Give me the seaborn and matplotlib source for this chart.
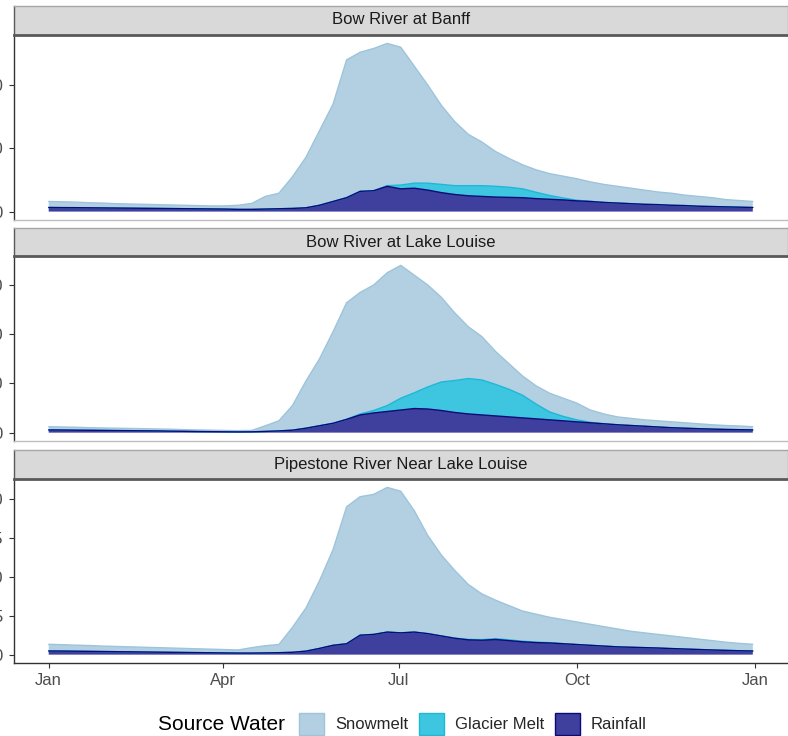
import numpy as np
import pandas as pd
import seaborn as sns
import matplotlib.pyplot as plt
import matplotlib.dates as mdates
from matplotlib.patches import Patch

# rivers (facets) and water sources (stack order in legend)
rivers = ["Bow River at Banff", "Bow River at Lake Louise", "Pipestone River Near Lake Louise"]
sources = ["Snowmelt", "Glacier Melt", "Rainfall"]
dates = pd.date_range("2021-01-01", periods=53, freq="7D")

# weekly flow by source
banff_snow = [9.5, 9.2, 8.8, 8.0, 7.7, 6.9, 6.6, 6.3, 6.0, 5.7, 5.4, 5.1, 4.8, 5.0, 6.5, 9.5,
              20, 24.5, 50, 80, 118, 154, 218, 220, 225, 225, 218, 185, 155, 125, 101, 81,
              69, 55, 45.5, 38, 35.5, 34.5, 34.5, 34, 30.7, 28.5, 26.5, 24.5, 22.5, 20, 19,
              16.5, 15.5, 14, 11.5, 10.5, 9.5]
banff_glacier = [0] * 25 + [1, 6, 8, 11, 13, 14, 16, 17, 17, 16, 14, 10, 6, 3, 1, 0.3] + [0] * 12
banff_rain = [6.5, 6.3, 6.2, 6.0, 5.8, 5.6, 5.4, 5.2, 5.0, 4.8, 4.6, 4.4, 4.2, 4.0, 3.5, 3.5,
              4.0, 4.5, 5.0, 6.0, 10, 16, 22, 32, 33, 40, 36, 37, 34, 30, 27, 25, 24, 23,
              22.5, 22, 20.5, 19.5, 18.5, 17, 16, 14.5, 13.5, 12.5, 11.5, 11, 10, 9.5, 8.5,
              8, 7.5, 7, 6.5]

louise_snow = [0.65, 0.62, 0.6, 0.52, 0.5, 0.48, 0.45, 0.43, 0.4, 0.4, 0.33, 0.33, 0.3, 0.28,
               0.25, 0.28, 1.15, 2.05, 5.0, 9.6, 13.6, 18.6, 23.7, 24.7, 25.5, 27.0, 27.0,
               23.9, 20.7, 17.2, 13.7, 10.5, 8.8, 6.7, 5.2, 3.9, 3.7, 3.8, 3.7, 3.4, 2.5,
               2.0, 1.6, 1.45, 1.3, 1.25, 1.2, 1.1, 1.0, 0.88, 0.8, 0.75, 0.65]
louise_glacier = [0] * 23 + [0.2, 0.5, 1.2, 2.4, 3.2, 4.5, 5.8, 6.5, 7.2, 7.1, 6.4, 5.6, 4.6,
                             3.0, 1.6, 0.9, 0.4, 0.1] + [0] * 12
louise_rain = [0.55, 0.53, 0.5, 0.48, 0.45, 0.42, 0.4, 0.37, 0.35, 0.3, 0.27, 0.22, 0.2, 0.17,
               0.15, 0.17, 0.25, 0.35, 0.5, 0.9, 1.4, 1.9, 2.7, 3.6, 4.0, 4.3, 4.6, 4.9, 4.8,
               4.5, 4.1, 3.8, 3.6, 3.4, 3.2, 3.0, 2.8, 2.6, 2.4, 2.2, 2.0, 1.8, 1.6, 1.45,
               1.3, 1.15, 1.0, 0.9, 0.8, 0.72, 0.65, 0.6, 0.55]

pipestone_snow = [0.86, 0.82, 0.78, 0.75, 0.7, 0.67, 0.64, 0.61, 0.58, 0.55, 0.52, 0.49, 0.46,
                  0.43, 0.4, 0.7, 0.93, 1.05, 3.2, 5.55, 8.7, 12.3, 17.6, 17.8, 18.0, 18.6,
                  18.2, 15.6, 12.6, 10.4, 8.67, 7.04, 5.87, 4.95, 4.4, 3.87, 3.59, 3.26, 3.08,
                  2.9, 2.7, 2.5, 2.3, 2.05, 1.9, 1.75, 1.62, 1.48, 1.34, 1.2, 1.05, 0.95, 0.86]
pipestone_glacier = [0] * 30 + [0.03, 0.06, 0.08, 0.1, 0.1, 0.08, 0.06, 0.04, 0.02] + [0] * 14
pipestone_rain = [0.47, 0.46, 0.44, 0.42, 0.4, 0.38, 0.36, 0.34, 0.32, 0.3, 0.28, 0.26, 0.24,
                  0.22, 0.2, 0.2, 0.22, 0.25, 0.3, 0.45, 0.8, 1.2, 1.4, 2.5, 2.6, 2.9, 2.8,
                  2.9, 2.7, 2.4, 2.1, 1.9, 1.85, 1.95, 1.8, 1.65, 1.55, 1.5, 1.4, 1.3, 1.2,
                  1.1, 1.0, 0.95, 0.9, 0.85, 0.78, 0.72, 0.66, 0.6, 0.55, 0.5, 0.47]

yticks = {rivers[0]: [0, 100, 200], rivers[1]: [0, 10, 20, 30], rivers[2]: [0, 5, 10, 15, 20]}

fills = {"Snowmelt": "#B2D0E2", "Glacier Melt": "#3EC6E0", "Rainfall": "#3F3F9E"}
edges = {"Snowmelt": "#9EC4DB", "Glacier Melt": "#1DB8D8", "Rainfall": "#0B0B78"}

series = {
    rivers[0]: (banff_snow, banff_glacier, banff_rain),
    rivers[1]: (louise_snow, louise_glacier, louise_rain),
    rivers[2]: (pipestone_snow, pipestone_glacier, pipestone_rain),
}
frames = []
for river, vals in series.items():
    for src, v in zip(sources, vals):
        frames.append(pd.DataFrame({"date": dates, "river": river, "source": src, "flow": v}))
df = pd.concat(frames, ignore_index=True)

sns.set_style("white")
plt.rcParams["font.family"] = ["Liberation Sans", "DejaVu Sans"]


def stacked_area(data, color=None, **kws):
    ax = plt.gca()
    wide = data.pivot(index="date", columns="source", values="flow")
    base = np.zeros(len(wide))
    layers = []
    for src in ["Rainfall", "Glacier Melt", "Snowmelt"]:
        top = base + wide[src].to_numpy()
        layers.append((src, base, top))
        base = top
    # ggplot order: snowmelt drawn first, rainfall last
    for src, lo, hi in reversed(layers):
        ax.fill_between(wide.index, lo, hi, facecolor=fills[src], edgecolor="none")
        sns.lineplot(x=wide.index, y=hi, color=edges[src], linewidth=1.0, ax=ax)


g = sns.FacetGrid(df, row="river", row_order=rivers, sharey=False, sharex=True,
                  height=2.4, aspect=3.2, despine=True)
g.map_dataframe(stacked_area)
g.set_titles("")
g.set_axis_labels("", "")

fig = g.figure
fig.set_size_inches(7.88, 7.36)
W, H = 788, 736
left, right = 13.5, 788


def box(top, bottom):
    return [left / W, 1 - bottom / H, (right - left) / W, (bottom - top) / H]


panels = [(35, 220), (257, 441), (479, 663)]
strips = [(5.5, 34.5), (228.5, 256.5), (450, 478.5)]

x0 = mdates.date2num(pd.Timestamp("2021-01-01"))
tick_dates = pd.to_datetime(["2021-01-01", "2021-04-01", "2021-07-01", "2021-10-01", "2022-01-01"])

for i, (ax, river) in enumerate(zip(g.axes.flat, rivers)):
    ax.set_position(box(*panels[i]))
    total = df[df.river == river].groupby("date")["flow"].sum().max()
    ax.set_ylim(-0.05 * total, 1.05 * total)
    ax.set_xlim(x0 - 0.05 * 364, x0 + 1.05 * 364)
    ax.set_yticks(yticks[river])
    ax.set_yticklabels([str(t) for t in yticks[river]])
    ax.set_xticks(mdates.date2num(tick_dates))
    ax.set_xticklabels(["Jan", "Apr", "Jul", "Oct", "Jan"])
    ax.set_xlabel("")
    ax.set_ylabel("")
    ax.tick_params(axis="both", labelsize=12, labelcolor="#4D4D4D", color="#333333",
                   length=3.5, width=0.8, pad=4, left=True, bottom=True)
    ax.spines["left"].set_color("#333333")
    ax.spines["left"].set_linewidth(1.0)
    if i < 2:
        ax.spines["bottom"].set_color("#BDBDBD")
        ax.tick_params(axis="x", length=0, labelbottom=False)
    else:
        ax.spines["bottom"].set_color("#333333")
        ax.tick_params(axis="x", labelbottom=True)
    ax.spines["bottom"].set_linewidth(1.0)

    sax = fig.add_axes(box(*strips[i]))
    sax.set_facecolor("#D9D9D9")
    sax.set_xticks([])
    sax.set_yticks([])
    for name, sp in sax.spines.items():
        sp.set_visible(True)
        sp.set_color("#A6A6A6")
        sp.set_linewidth(1.0)
    sax.spines["bottom"].set_color("#595959")
    sax.spines["bottom"].set_linewidth(2.0)
    sax.spines["left"].set_color("#595959")
    sax.text(0.5, 0.5, river, ha="center", va="center", fontsize=12, color="#1A1A1A",
             transform=sax.transAxes)

handles = [Patch(facecolor=fills[s], edgecolor=edges[s], linewidth=1.0) for s in sources]
fig.legend(handles, sources, loc="center", bbox_to_anchor=(473 / W, 1 - 724 / H), ncol=3,
           frameon=False, fontsize=12, handlelength=1.5, handleheight=1.6,
           handletextpad=0.65, columnspacing=0.65, borderpad=0)
fig.text(158 / W, 1 - 724 / H, "Source Water", fontsize=15, ha="left", va="center",
         color="black")

fig.savefig("out.png", dpi=100)
